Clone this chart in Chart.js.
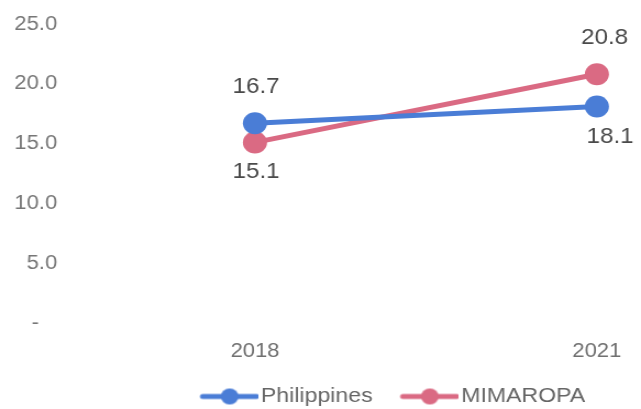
<!DOCTYPE html>
<html>
<head>
<meta charset="utf-8">
<script src="https://cdn.jsdelivr.net/npm/chart.js@4/dist/chart.umd.min.js"></script>
<style>
  html, body { margin: 0; padding: 0; background: #fff; overflow: hidden; }
  /* the reference is a little wider than tall, so the canvas is stretched a bit */
  #chart { width: 641px; height: 409px; }
</style>
</head>
<body>
<canvas id="chart" width="583" height="409" style="width:641px;height:409px"></canvas>
<script>
// data
const years = ['2018', '2021'];
const philippines = [16.7, 18.1];
const mimaropa = [15.1, 20.8];
const seriesNames = ['Philippines', 'MIMAROPA'];
const yTicks = [0, 5, 10, 15, 20, 25];

const blue = '#4a7dd6';
const pink = '#da6a83';
const font = 'Liberation Sans, Arial, sans-serif';

// legend marker: a short line with a dot in the middle (right part of the image, left is empty)
const legendMarker = (color) => {
	const c = document.createElement('canvas');
	c.width = 77; c.height = 22;
	const ctx = c.getContext('2d');
	ctx.strokeStyle = color;
	ctx.lineWidth = 5;
	ctx.lineCap = 'round';
	ctx.beginPath(); ctx.moveTo(26, 11); ctx.lineTo(75, 11); ctx.stroke();
	ctx.fillStyle = color;
	ctx.beginPath(); ctx.arc(50.5, 11, 8, 0, Math.PI * 2); ctx.fill();
	return c;
};

// value labels above or below each point
const labelSide = [['above', 'below'], ['below', 'above']];
const valueLabels = {
	id: 'valueLabels',
	afterDatasetsDraw(chart) {
		const ctx = chart.ctx;
		ctx.save();
		ctx.font = '22px ' + font;
		ctx.fillStyle = '#4a4a4a';
		ctx.textAlign = 'center';
		ctx.textBaseline = 'middle';
		chart.data.datasets.forEach((ds, i) => {
			chart.getDatasetMeta(i).data.forEach((pt, j) => {
				const above = labelSide[i][j] === 'above';
				const dy = above ? -36 : 30;
				const dx = j === 0 ? 1 : (above ? 7 : 12);
				ctx.fillText(ds.data[j].toFixed(1), pt.x + dx, pt.y + dy);
			});
		});
		ctx.restore();
	}
};

// move the legend under the plot like in the picture
const legendShift = {
	id: 'legendShift',
	afterLayout(chart) {
		const lg = chart.legend;
		lg.left += 60; lg.right += 60;
		lg.top += 8; lg.bottom += 8;
	}
};

new Chart(document.getElementById('chart'), {
	type: 'line',
	plugins: [valueLabels, legendShift],
	data: {
		labels: years,
		datasets: [
			{
				label: seriesNames[0],
				data: philippines,
				borderColor: blue,
				backgroundColor: blue,
				borderWidth: 5,
				pointRadius: 11,
				pointHoverRadius: 11,
				pointBorderWidth: 0,
			},
			{
				label: seriesNames[1],
				data: mimaropa,
				borderColor: pink,
				backgroundColor: pink,
				borderWidth: 5,
				pointRadius: 11,
				pointHoverRadius: 11,
				pointBorderWidth: 0,
			},
		],
	},
	options: {
		responsive: false,
		animation: false,
		layout: { padding: { top: 24, left: 0, right: 4, bottom: 0 } },
		plugins: {
			tooltip: { enabled: false },
			legend: {
				position: 'bottom',
				maxHeight: 44,
				labels: {
					usePointStyle: true,
					pointStyleWidth: 60,
					padding: 10,
					color: '#666666',
					font: { family: font, size: 21 },
					generateLabels: (chart) => chart.data.datasets.map((ds, i) => ({
						text: ds.label,
						pointStyle: legendMarker(ds.borderColor),
						fillStyle: ds.borderColor,
						strokeStyle: ds.borderColor,
						lineWidth: 0,
						fontColor: '#666666',
						datasetIndex: i,
					})),
				},
			},
		},
		scales: {
			x: {
				type: 'linear',
				min: 2016.313,
				max: 2021.281,
				grid: { display: false, drawTicks: false },
				border: { display: false },
				afterBuildTicks: (axis) => { axis.ticks = years.map(y => ({ value: +y })); },
				afterFit: (axis) => { axis.height = 45; },
				ticks: {
					padding: 16,
					color: '#707070',
					font: { family: font, size: 20 },
					callback: (v) => String(v),
				},
			},
			y: {
				min: 0,
				max: 25,
				grid: { display: false, drawTicks: false },
				border: { display: false },
				afterBuildTicks: (axis) => { axis.ticks = yTicks.map(v => ({ value: v })); },
				afterFit: (axis) => { axis.width = 57; },
				ticks: {
					padding: 5,
					color: '#777777',
					font: { family: font, size: 20 },
					callback: (v) => v === 0 ? '-   ' : Number(v).toFixed(1),
				},
			},
		},
	},
});
</script>
</body>
</html>
